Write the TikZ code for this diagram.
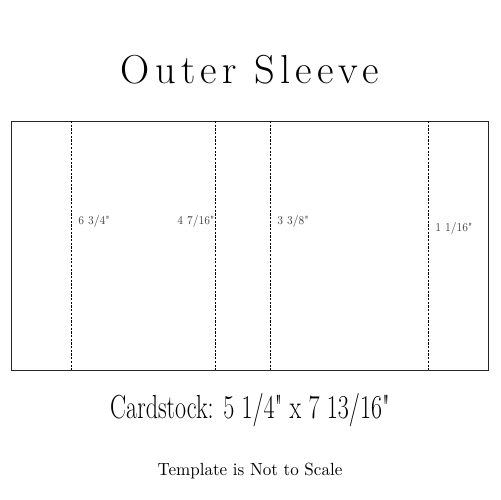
\documentclass[tikz,border=0pt]{standalone}
\usepackage{fontspec}
\usepackage{graphicx}
\usepackage{tikz}
\usetikzlibrary{positioning,calc}

\newfontfamily\titlefont[LetterSpace=13]{Latin Modern Roman}

\tikzset{
    fold/.style={draw=black, line width=0.5pt, dash pattern=on 1.3pt off 0.8pt},
    dimlabel/.style={font=\fontsize{6.8}{7}\selectfont, text=black!75, inner sep=0pt, anchor=west}
}

\begin{document}
\begin{tikzpicture}[x=0.02cm, y=-0.02cm]
    \useasboundingbox (0,0) rectangle (500,500);

    % title
    \node (title) at (250,70) {\titlefont\fontsize{23}{26}\selectfont Outer Sleeve};

    % sleeve outline
    \draw [black!85, line width=0.4pt] (11,121) rectangle (488,370);

    % fold lines
    \foreach \x in {71, 215, 270, 428}
        \draw [fold] (\x,121) -- (\x,370);

    % panel sizes
    \node [dimlabel] (d1) at (78,222) {\scalebox{0.85}[1]{6 3/4\textquotedbl}};
    \node [dimlabel, anchor=east] (d2) at (215,222) {\scalebox{0.85}[1]{4 7/16\textquotedbl}};
    \node [dimlabel] (d3) at (277,222) {\scalebox{0.85}[1]{3 3/8\textquotedbl}};
    \node [dimlabel] (d4) at (435,229) {\scalebox{0.85}[1]{1 1/16\textquotedbl}};

    % cardstock size
    \node (card) at (250,410) {\scalebox{0.72}[1]{\fontsize{19}{22}\selectfont Cardstock: 5 1/4\textquotedbl{} x 7 13/16\textquotedbl}};
    \node [below=0.48cm of card] (note) {\scalebox{0.97}[1]{\fontsize{10}{12}\selectfont Template is Not to Scale}};
\end{tikzpicture}
\end{document}
